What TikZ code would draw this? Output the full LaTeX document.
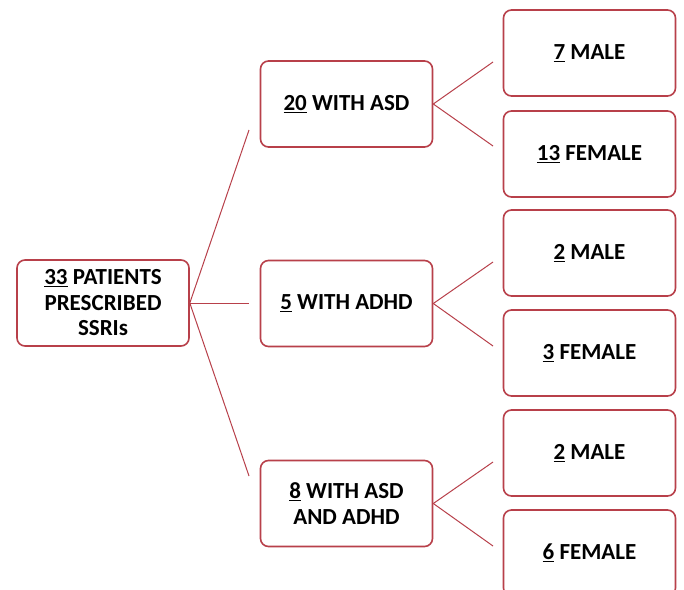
\documentclass[tikz,border=0pt]{standalone}
\usepackage{fontspec}
\setmainfont{Carlito}
\definecolor{boxred}{RGB}{184,64,74}
\begin{document}
\begin{tikzpicture}[x=1pt,y=-1pt,
  box/.style={draw=boxred, line width=1.6pt, rounded corners=8pt, fill=white,
    minimum width=172pt, minimum height=86pt, align=center, inner sep=0pt,
    font=\fontsize{23}{25.5}\selectfont\bfseries},
  link/.style={draw=boxred, line width=1pt}]
\clip (0,0) rectangle (684,589);
\fill[white] (0,0) rectangle (684,589);
\node[box] (root) at (103,303) {\underline{33} PATIENTS\\PRESCRIBED\\SSRIs};
\node[box] (asd) at (346.5,104) {\underline{20} WITH ASD};
\node[box] (adhd) at (346.5,303.5) {\underline{5} WITH ADHD};
\node[box] (both) at (346.5,503.5) {\underline{8} WITH ASD\\AND ADHD};
\node[box] (m1) at (589.5,53) {\underline{7} MALE};
\node[box] (f1) at (589.5,154) {\underline{13} FEMALE};
\node[box] (m2) at (589.5,253) {\underline{2} MALE};
\node[box] (f2) at (589.5,353) {\underline{3} FEMALE};
\node[box] (m3) at (589.5,453) {\underline{2} MALE};
\node[box] (f3) at (589.5,553) {\underline{6} FEMALE};
\coordinate (e1) at (249,130);
\coordinate (e2) at (249,303);
\coordinate (e3) at (249,476);
\draw[link] (root.east) -- (e1);
\draw[link] (root.east) -- (e2);
\draw[link] (root.east) -- (e3);
\coordinate (a1) at (493,62);
\coordinate (a2) at (493,146);
\coordinate (b1) at (493,262);
\coordinate (b2) at (493,346);
\coordinate (c1) at (493,462);
\coordinate (c2) at (493,546);
\draw[link] (asd.east) -- (a1);
\draw[link] (asd.east) -- (a2);
\draw[link] (adhd.east) -- (b1);
\draw[link] (adhd.east) -- (b2);
\draw[link] (both.east) -- (c1);
\draw[link] (both.east) -- (c2);
\end{tikzpicture}
\end{document}
